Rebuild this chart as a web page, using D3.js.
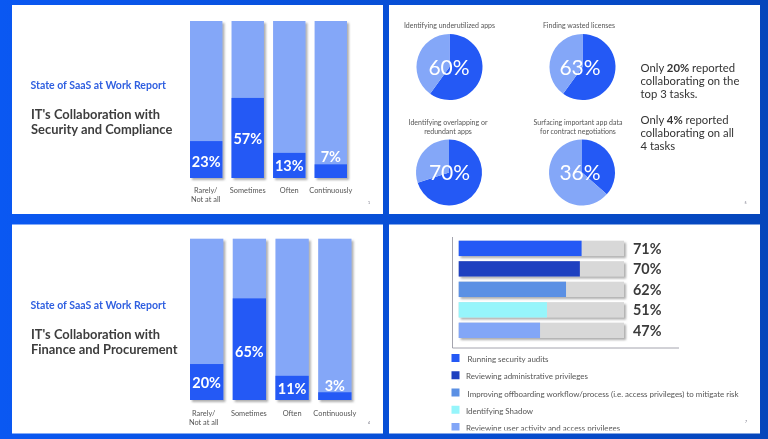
<!DOCTYPE html>
<html>
<head>
<meta charset="utf-8">
<script src="https://cdn.jsdelivr.net/npm/d3@7"></script>
<style>
html, body { margin: 0; padding: 0; background: #0648c8; overflow: hidden; }
svg { display: block; filter: blur(0.45px); }
text { font-family: Lato, "Noto Sans", sans-serif; }
</style>
</head>
<body>
<svg id="chart" width="768" height="439"></svg>
<script>
const reportTitle = "State of SaaS at Work Report";
const frequency = ["Rarely/\nNot at all", "Sometimes", "Often", "Continuously"];

const securityLabels = ["23%", "57%", "13%", "7%"];
const securityBars = [23.5, 51, 16, 8.7]; // bars are not drawn to their labels in the original
const securityTitle = ["IT's Collaboration with", "Security and Compliance"];

const financeLabels = ["20%", "65%", "11%", "3%"];
const financeBars = [22.3, 63, 15, 4.8];
const financeTitle = ["IT's Collaboration with", "Finance and Procurement"];

const taskNames = [
	"Identifying underutilized apps",
	"Finding wasted licenses",
	"Identifying overlapping or\nredundant apps",
	"Surfacing important app data\nfor contract negotiations",
];
const taskLabels = ["60%", "63%", "70%", "36%"];
const taskSlices = [60, 60, 70, 36.5];

const auditNames = [
	"Running security audits",
	"Reviewing administrative privileges",
	"Improving offboarding workflow/process (i.e. access privileges) to mitigate risk",
	"Identifying Shadow",
	"Reviewing user activity and access privileges",
];
const auditValues = [71, 70, 62, 51, 47];
const auditTrack = 95.5;
const auditColors = ["#2459f5", "#1e40c0", "#5b90e4", "#96f5fb", "#82a6f7"];

const dark = "#2459f5";
const light = "#84a7f8";
const ink = "#3d3d3d";

const svg = d3.select("#chart");

const defs = svg.append("defs");
const bg = defs.append("linearGradient").attr("id", "bg");
bg.append("stop").attr("offset", "0%").attr("stop-color", "#0a58f2");
bg.append("stop").attr("offset", "100%").attr("stop-color", "#0546bb");
defs.append("filter").attr("id", "shadow")
	.attr("x", "-20%").attr("y", "-20%").attr("width", "150%").attr("height", "150%")
	.append("feDropShadow")
	.attr("dx", 2).attr("dy", 2).attr("stdDeviation", 1)
	.attr("flood-color", "#777").attr("flood-opacity", 0.6);
defs.append("clipPath").attr("id", "slide4")
	.append("rect").attr("x", 389).attr("y", 225).attr("width", 372).attr("height", 205.6);

svg.append("rect").attr("width", 768).attr("height", 439).attr("fill", "url(#bg)");

const slides = [
	{ x: 12, y: 5 },
	{ x: 389, y: 5 },
	{ x: 12, y: 224.5 },
	{ x: 389, y: 224.5 },
];
svg.selectAll("rect.slide")
	.data(slides)
	.join("rect")
	.attr("class", "slide")
	.attr("x", (d) => d.x)
	.attr("y", (d) => d.y)
	.attr("width", 371)
	.attr("height", 209)
	.attr("fill", "#fff");

function multiline(sel, str, lineHeight) {
	str.split("\n").forEach((line, i) => {
		sel.append("tspan").attr("x", sel.attr("x")).attr("dy", i ? lineHeight : 0).text(line);
	});
}

function columnSlide(opts) {
	const g = svg.append("g");
	g.append("text").attr("x", 30.5).attr("y", opts.headY)
		.attr("font-size", 10.5).attr("font-weight", 700).attr("fill", "#2f5fe0")
		.text(reportTitle);
	opts.title.forEach((t, i) => {
		g.append("text").attr("x", 31).attr("y", opts.titleY + i * 15)
			.attr("font-size", 12.9).attr("font-weight", 700).attr("fill", ink).text(t);
	});

	const x = d3.scaleBand().domain(frequency).range(opts.xRange).paddingInner(0.22);
	const y = d3.scaleLinear().domain([0, 100]).range(opts.yRange);

	g.selectAll("rect.track").data(frequency).join("rect")
		.attr("class", "track")
		.attr("x", (d) => x(d))
		.attr("y", y(100))
		.attr("width", x.bandwidth())
		.attr("height", y(0) - y(100))
		.attr("fill", light)
		.attr("filter", "url(#shadow)");

	g.selectAll("rect.fill").data(opts.bars).join("rect")
		.attr("class", "fill")
		.attr("x", (d, i) => x(frequency[i]))
		.attr("y", (d) => y(d))
		.attr("width", x.bandwidth())
		.attr("height", (d) => y(0) - y(d))
		.attr("fill", dark);

	g.selectAll("text.pct").data(opts.labels).join("text")
		.attr("class", "pct")
		.attr("x", (d, i) => x(frequency[i]) + x.bandwidth() / 2)
		.attr("y", (d, i) => opts.labelY[i])
		.attr("text-anchor", "middle")
		.attr("font-size", 14.5)
		.attr("font-weight", 700)
		.attr("fill", "#fff")
		.text((d) => d);

	frequency.forEach((f, i) => {
		const t = g.append("text")
			.attr("x", x(f) + x.bandwidth() / 2 + opts.catShift[i])
			.attr("y", opts.catY)
			.attr("text-anchor", "middle")
			.attr("font-size", 7.4)
			.attr("fill", "#555");
		multiline(t, f, 8.6);
	});
	g.append("text").attr("x", 369).attr("y", opts.pageY).attr("text-anchor", "middle")
		.attr("font-size", 3.5).attr("fill", "#667").text(opts.page);
}

columnSlide({
	headY: 88.5, titleY: 119, title: securityTitle,
	labels: securityLabels, bars: securityBars,
	xRange: [190, 347], yRange: [178, 21],
	labelY: [166.5, 144, 171, 162],
	catShift: [-0.5, 0, 0, 0], catY: 193, pageY: 204, page: "1",
});
columnSlide({
	headY: 308.5, titleY: 339, title: financeTitle,
	labels: financeLabels, bars: financeBars,
	xRange: [190, 351.5], yRange: [400, 238.7],
	labelY: [388, 357, 394, 390.5],
	catShift: [-3, -0.5, 0, 0], catY: 416, pageY: 424, page: "4",
});

// four task pies
const pieCentres = [
	{ x: 449.5, y: 67, labelX: 449, nameY: 28 },
	{ x: 582.5, y: 67, labelX: 580, nameY: 28 },
	{ x: 449, y: 172.5, labelX: 449.5, nameY: 125 },
	{ x: 582, y: 172.5, labelX: 580, nameY: 125 },
];
const arc = d3.arc().innerRadius(0).outerRadius(33);
const pie = d3.pie().sort(null);
taskSlices.forEach((v, i) => {
	const c = pieCentres[i];
	const g = svg.append("g");
	g.append("g").attr("transform", `translate(${c.x},${c.y})`)
		.selectAll("path").data(pie([v, 100 - v])).join("path")
		.attr("d", arc)
		.attr("fill", (d, j) => (j === 0 ? dark : light));
	g.append("text").attr("x", c.labelX).attr("y", c.y + 7.5)
		.attr("text-anchor", "middle").attr("font-size", 21).attr("fill", "#fff")
		.text(taskLabels[i]);
	const t = g.append("text").attr("x", c.x - (i === 1 ? 3.5 : i === 3 ? 4 : i === 2 ? 1 : 0)).attr("y", c.nameY)
		.attr("text-anchor", "middle").attr("font-size", 7).attr("fill", "#555");
	multiline(t, taskNames[i], 8.6);
});

const noteLines = [
	[["Only ", 400], ["20%", 700], [" reported", 400]],
	[["collaborating on the", 400]],
	[["top 3 tasks.", 400]],
	[["Only ", 400], ["4%", 700], [" reported", 400]],
	[["collaborating on all", 400]],
	[["4 tasks", 400]],
];
const noteY = [72, 85, 98, 124, 137, 150];
noteLines.forEach((line, i) => {
	const t = svg.append("text").attr("x", 640.5).attr("y", noteY[i])
		.attr("font-size", 11.3).attr("fill", "#333");
	line.forEach((part) => {
		t.append("tspan").attr("font-weight", part[1]).text(part[0]);
	});
});
svg.append("text").attr("x", 745.5).attr("y", 204).attr("text-anchor", "middle")
	.attr("font-size", 3.5).attr("fill", "#667").text("5");

// audit bars
const ag = svg.append("g");
const ax = d3.scaleLinear().domain([0, auditTrack]).range([458.7, 624]);
const ay = d3.scaleBand().domain(auditNames).range([240.7, 338]).paddingInner(0.25);

ag.append("path")
	.attr("d", d3.line()([[452.5, 237], [452.5, 348], [679, 348]]))
	.attr("fill", "none").attr("stroke", "#8d8d99").attr("stroke-width", 0.8);

ag.selectAll("rect.track").data(auditNames).join("rect")
	.attr("class", "track")
	.attr("x", ax(0))
	.attr("y", (d) => ay(d))
	.attr("width", ax(auditTrack) - ax(0))
	.attr("height", ay.bandwidth())
	.attr("fill", "#d8d8d8")
	.attr("filter", "url(#shadow)");

ag.selectAll("rect.value").data(auditValues).join("rect")
	.attr("class", "value")
	.attr("x", ax(0))
	.attr("y", (d, i) => ay(auditNames[i]))
	.attr("width", (d) => ax(d) - ax(0))
	.attr("height", ay.bandwidth())
	.attr("fill", (d, i) => auditColors[i]);

ag.selectAll("text.pct").data(auditValues).join("text")
	.attr("class", "pct")
	.attr("x", 633)
	.attr("y", (d, i) => ay(auditNames[i]) + ay.bandwidth() / 2 + 5.5)
	.attr("font-size", 14.4)
	.attr("font-weight", 700)
	.attr("fill", "#3b3b3b")
	.text((d) => d + "%");

const legend = svg.append("g").attr("clip-path", "url(#slide4)");
const legendY = d3.scalePoint().domain(auditNames).range([358, 427]);
const legendTextX = [467.5, 466, 467.5, 466, 466];
legend.selectAll("rect").data(auditNames).join("rect")
	.attr("x", 451.5)
	.attr("y", (d) => legendY(d) - 4)
	.attr("width", 8)
	.attr("height", 8)
	.attr("fill", (d, i) => auditColors[i]);
legend.selectAll("text").data(auditNames).join("text")
	.attr("x", (d, i) => legendTextX[i])
	.attr("y", (d) => legendY(d) + 4)
	.attr("font-size", 7.95)
	.attr("fill", "#555")
	.text((d) => d);
svg.append("text").attr("x", 746).attr("y", 423).attr("text-anchor", "middle")
	.attr("font-size", 3.5).attr("fill", "#667").text("7");
</script>
</body>
</html>
